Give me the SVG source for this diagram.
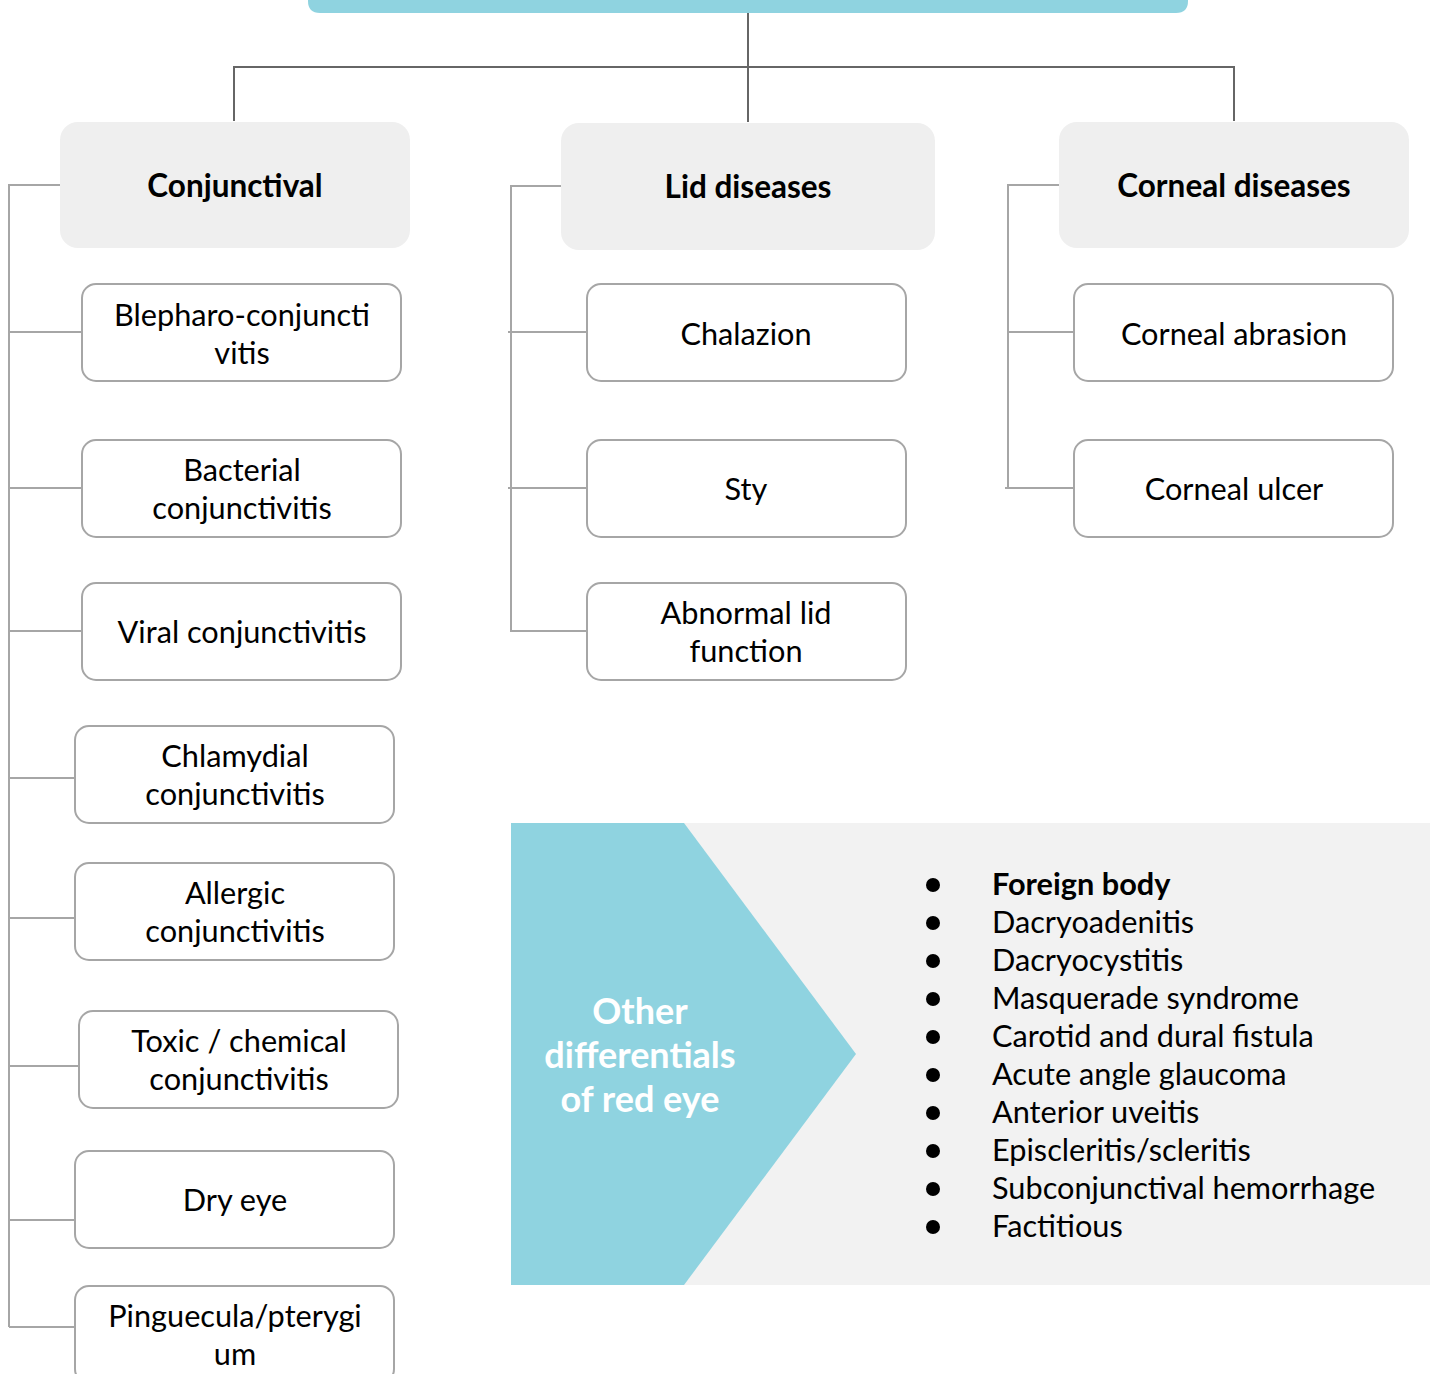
<svg xmlns="http://www.w3.org/2000/svg" width="1438" height="1374" viewBox="0 0 1438 1374">
  <style>
    .head { fill: #efefef; }
    .item { fill: #ffffff; stroke: #a6a6a6; stroke-width: 2; }
    .t { font-family: Lato, "Noto Sans", "Liberation Sans", sans-serif; font-size: 30.7px; fill: #000; text-anchor: middle; }
    .h { font-family: Lato, "Noto Sans", "Liberation Sans", sans-serif; font-size: 31.5px; font-weight: bold; fill: #000; text-anchor: middle; }
    .trunk { fill: none; stroke: #666666; stroke-width: 2; }
    .branch { fill: none; stroke: #a6a6a6; stroke-width: 2; }
    .li { font-family: Lato, "Noto Sans", "Liberation Sans", sans-serif; font-size: 30.7px; fill: #000; }
    .teal { fill: #8fd3e0; }
    .ot { font-family: Lato, "Noto Sans", "Liberation Sans", sans-serif; font-size: 36px; font-weight: bold; fill: #ffffff; text-anchor: middle; }
  </style>

  <!-- connectors -->
  <g id="connectors">
    <path class="trunk" d="M748 13 V122 M234 121 V67 H1234 V121"/>
    <!-- conjunctival branches -->
    <path class="branch" d="M60 185 H9 V1327 M9 332 H82 M9 488 H82 M9 631 H82 M9 778 H75 M9 918 H75 M9 1066 H79 M9 1220 H75 M9 1327 H75"/>
    <!-- lid branches -->
    <path class="branch" d="M561 186 H511 V631 H587 M508 332 H587 M508 488 H587"/>
    <!-- corneal branches -->
    <path class="branch" d="M1059 185 H1008 V488 M1008 332 H1074 M1005 488 H1074"/>
  </g>

  <!-- root bar -->
  <g id="root">
    <path class="teal" d="M308 -20 H1188 V1 Q1188 13 1176 13 H320 Q308 13 308 1 Z"/>
  </g>

  <!-- category headers -->
  <g id="conjunctival">
    <rect class="head" x="60" y="122" width="350" height="126" rx="18"/>
    <text class="h" x="235" y="197">Conjunctival</text>
  </g>
  <g id="lid-diseases">
    <rect class="head" x="561" y="123" width="374" height="127" rx="18"/>
    <text class="h" x="748" y="198">Lid diseases</text>
  </g>
  <g id="corneal-diseases">
    <rect class="head" x="1059" y="122" width="350" height="126" rx="18"/>
    <text class="h" x="1234" y="197">Corneal diseases</text>
  </g>

  <!-- conjunctival items -->
  <g id="blepharo">
    <rect class="item" x="82" y="284" width="319" height="97" rx="14"/>
    <text class="t" x="242" y="326">Blepharo-conjuncti</text>
    <text class="t" x="242" y="364">vitis</text>
  </g>
  <g id="bacterial">
    <rect class="item" x="82" y="440" width="319" height="97" rx="14"/>
    <text class="t" x="242" y="481">Bacterial</text>
    <text class="t" x="242" y="519">conjunctivitis</text>
  </g>
  <g id="viral">
    <rect class="item" x="82" y="583" width="319" height="97" rx="14"/>
    <text class="t" x="242" y="643">Viral conjunctivitis</text>
  </g>
  <g id="chlamydial">
    <rect class="item" x="75" y="726" width="319" height="97" rx="14"/>
    <text class="t" x="235" y="767">Chlamydial</text>
    <text class="t" x="235" y="805">conjunctivitis</text>
  </g>
  <g id="allergic">
    <rect class="item" x="75" y="863" width="319" height="97" rx="14"/>
    <text class="t" x="235" y="904">Allergic</text>
    <text class="t" x="235" y="942">conjunctivitis</text>
  </g>
  <g id="toxic">
    <rect class="item" x="79" y="1011" width="319" height="97" rx="14"/>
    <text class="t" x="239" y="1052">Toxic / chemical</text>
    <text class="t" x="239" y="1090">conjunctivitis</text>
  </g>
  <g id="dry-eye">
    <rect class="item" x="75" y="1151" width="319" height="97" rx="14"/>
    <text class="t" x="235" y="1211">Dry eye</text>
  </g>
  <g id="pinguecula">
    <rect class="item" x="75" y="1286" width="319" height="97" rx="14"/>
    <text class="t" x="235" y="1327">Pinguecula/pterygi</text>
    <text class="t" x="235" y="1365">um</text>
  </g>

  <!-- lid items -->
  <g id="chalazion">
    <rect class="item" x="587" y="284" width="319" height="97" rx="14"/>
    <text class="t" x="746" y="345">Chalazion</text>
  </g>
  <g id="sty">
    <rect class="item" x="587" y="440" width="319" height="97" rx="14"/>
    <text class="t" x="746" y="500">Sty</text>
  </g>
  <g id="abnormal-lid">
    <rect class="item" x="587" y="583" width="319" height="97" rx="14"/>
    <text class="t" x="746" y="624">Abnormal lid</text>
    <text class="t" x="746" y="662">function</text>
  </g>

  <!-- corneal items -->
  <g id="corneal-abrasion">
    <rect class="item" x="1074" y="284" width="319" height="97" rx="14"/>
    <text class="t" x="1234" y="345">Corneal abrasion</text>
  </g>
  <g id="corneal-ulcer">
    <rect class="item" x="1074" y="440" width="319" height="97" rx="14"/>
    <text class="t" x="1234" y="500">Corneal ulcer</text>
  </g>

  <!-- other differentials panel -->
  <g id="other-differentials">
    <rect x="511" y="823" width="919" height="462" fill="#f2f2f2"/>
    <polygon class="teal" points="511,823 684,823 856,1054 684,1285 511,1285"/>
    <text class="ot" x="640" y="1024">Other</text>
    <text class="ot" x="640" y="1068">differentials</text>
    <text class="ot" x="640" y="1112">of red eye</text>
    <g fill="#000">
      <circle cx="933" cy="885" r="7"/>
      <circle cx="933" cy="923" r="7"/>
      <circle cx="933" cy="961" r="7"/>
      <circle cx="933" cy="999" r="7"/>
      <circle cx="933" cy="1037" r="7"/>
      <circle cx="933" cy="1075" r="7"/>
      <circle cx="933" cy="1113" r="7"/>
      <circle cx="933" cy="1151" r="7"/>
      <circle cx="933" cy="1189" r="7"/>
      <circle cx="933" cy="1227" r="7"/>
    </g>
    <text class="li" x="992" y="895" font-weight="bold">Foreign body</text>
    <text class="li" x="992" y="933">Dacryoadenitis</text>
    <text class="li" x="992" y="971">Dacryocystitis</text>
    <text class="li" x="992" y="1009">Masquerade syndrome</text>
    <text class="li" x="992" y="1047">Carotid and dural fistula</text>
    <text class="li" x="992" y="1085">Acute angle glaucoma</text>
    <text class="li" x="992" y="1123">Anterior uveitis</text>
    <text class="li" x="992" y="1161">Episcleritis/scleritis</text>
    <text class="li" x="992" y="1199">Subconjunctival hemorrhage</text>
    <text class="li" x="992" y="1237">Factitious</text>
  </g>
</svg>
